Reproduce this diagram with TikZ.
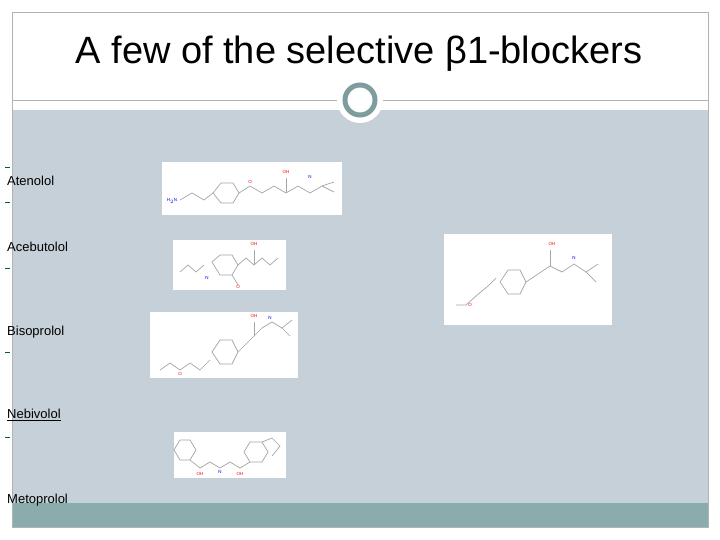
\documentclass[tikz,border=0pt]{standalone}
\usepackage{fontspec}
\setmainfont{Liberation Sans}
\begin{document}
\begin{tikzpicture}[x=1pt,y=-1pt,
  lbl/.style={anchor=west,font=\fontsize{13}{15}\selectfont,inner sep=0pt},
  img/.style={fill=white,draw=none},
  bond/.style={draw=gray!70,line width=0.7pt},
  tick/.style={draw=teal!70!black,line width=1pt},
  tiny/.style={font=\fontsize{4.5}{5}\selectfont,inner sep=0pt}]
\useasboundingbox (0,0) rectangle (720,540);
\fill[white] (0,0) rectangle (720,540);
% frame
\fill[fill={rgb,255:red,197;green,208;blue,216}] (12,110) rectangle (708,505);
\fill[fill={rgb,255:red,138;green,172;blue,173}] (12,503) rectangle (708,527);
\draw[gray!60] (12,12) rectangle (708,527);
\draw[gray!60] (12,100) -- (708,100);
\node[font=\fontsize{38}{44}\selectfont] (title) at (359,54) {A few of the selective β1-blockers};
\node[circle,fill=white,minimum size=46pt,inner sep=0pt] (c0) at (360,100) {};
\node[circle,draw={rgb,255:red,127;green,156;blue,158},line width=5pt,fill=white,minimum size=30pt,inner sep=0pt] (c1) at (360,100) {};
% ticks
\foreach \y in {168,203,268,352,437} \draw[tick] (5,\y) -- (10,\y);
% labels
\node[lbl] (l1) at (7,181) {Atenolol};
\node[lbl] (l2) at (7,247) {Acebutolol};
\node[lbl] (l3) at (7,332) {Bisoprolol};
\node[lbl] (l4) at (7,415) {\underline{Nebivolol}};
\node[lbl] (l5) at (7,500) {Metoprolol};
% image boxes
\fill[img] (162,162) rectangle (342,215);
\fill[img] (173,240) rectangle (286,290);
\fill[img] (150,312) rectangle (298,378);
\fill[img] (174,432) rectangle (286,478);
\fill[img] (444,234) rectangle (612,325);
% Atenolol
\begin{scope}[bond]
\draw (180,200)--(192,193)--(204,200)--(213,193);
\draw (213,193)--(221,183)--(233,183)--(239,193)--(233,203)--(221,203)--cycle;
\draw (239,193)--(250,186)--(262,193)--(274,186)--(286,193)--(298,186)--(310,193)--(322,186)--(334,182);
\draw (322,186)--(334,192);
\draw (286,193)--(286,178);
\end{scope}
\node[tiny,red] (a1) at (286,172) {OH};
\node[tiny,blue] (a2) at (310,177) {N};
\node[tiny,blue] (a3) at (172,201) {H$_2$N};
\node[tiny,red] (a4) at (250,182) {O};
% Acebutolol
\begin{scope}[bond]
\draw (180,272)--(188,265)--(196,272)--(204,265);
\draw (212,262)--(220,255)--(232,255)--(238,265)--(232,275)--(220,275)--cycle;
\draw (238,265)--(246,258)--(254,265)--(262,258)--(270,265)--(278,258);
\draw (254,265)--(254,250);\draw (232,275)--(238,285);
\end{scope}
\node[tiny,red] (b1) at (254,244) {OH};
\node[tiny,blue] (b2) at (207,278) {N};
\node[tiny,red] (b3) at (238,287) {O};
% Bisoprolol
\begin{scope}[bond]
\draw (160,370)--(170,363)--(180,370)--(190,363)--(200,370)--(210,360);
\draw (212,352)--(220,340)--(232,340)--(238,352)--(232,364)--(220,364)--cycle;
\draw (238,352)--(246,344)--(254,336)--(262,328)--(272,322)--(282,328)--(292,320);
\draw (282,328)--(290,336);
\draw (254,336)--(254,322);
\end{scope}
\node[tiny,red] (c2) at (254,316) {OH};
\node[tiny,blue] (c3) at (270,318) {N};
\node[tiny,red] (c4) at (180,374) {O};
% Nebivolol
\begin{scope}[bond]
\draw (180,440)--(190,440)--(196,450)--(190,460)--(180,460)--(174,450)--cycle;
\draw (190,460)--(200,468)--(210,462)--(220,468)--(230,462)--(240,468)--(250,462);
\draw (250,442)--(262,442)--(268,452)--(262,462)--(250,462)--(244,452)--cycle;
\draw (262,442)--(272,438)--(280,446)--(272,456);
\end{scope}
\node[tiny,red] (d1) at (200,474) {OH};
\node[tiny,red] (d2) at (240,474) {OH};
\node[tiny,blue] (d3) at (220,472) {N};
% Metoprolol
\begin{scope}[bond]
\draw (456,305)--(466,305)--(476,296)--(488,286)--(496,278);
\draw (500,282)--(508,270)--(520,270)--(526,282)--(520,294)--(508,294)--cycle;
\draw (526,282)--(538,274)--(550,266)--(562,272)--(574,264)--(586,272)--(598,264);
\draw (586,272)--(596,282);
\draw (550,266)--(550,250);
\end{scope}
\node[tiny,red] (e1) at (552,244) {OH};
\node[tiny,blue] (e2) at (574,258) {N};
\node[tiny,red] (e3) at (470,305) {O};
\end{tikzpicture}
\end{document}
